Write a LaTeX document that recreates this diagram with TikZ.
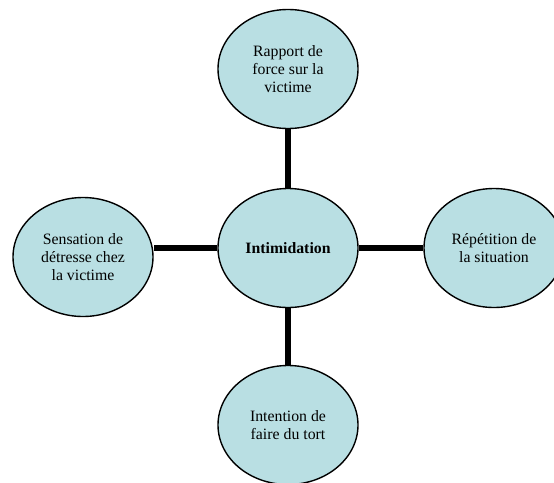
\documentclass[tikz,border=0pt]{standalone}
\usepackage{fontspec}
\setmainfont{Liberation Serif}
\usepackage{tikz}
\usetikzlibrary{shapes.geometric}
\usetikzlibrary{backgrounds}
\definecolor{bulle}{RGB}{185,223,227}
\tikzstyle{idee}=[draw,fill=bulle,ellipse,line width=1.4pt,minimum width=140pt,minimum height=119pt,inner sep=0pt,align=center,font=\fontsize{15.8}{18.2}\selectfont]
\tikzstyle{lien}=[line width=6pt]

\begin{document}
\begin{tikzpicture}[x=1pt,y=-1pt]
\useasboundingbox (0,0) rectangle (554,482);
    \node [idee] (intim) at (288,248) {\textbf{Intimidation}};
    \node [idee] (rapport) at (288,69) {Rapport de\\force sur la\\victime};
    \node [idee] (repet) at (494,248) {Répétition de\\la situation};
    \node [idee] (intent) at (288,425) {Intention de\\faire du tort};
    \node [idee] (detresse) at (83,257) {Sensation de\\détresse chez\\la victime};
% les liens passent sous les bulles
\begin{scope}[on background layer]
\draw[lien] (intim) -- (rapport);
\draw[lien] (intim) -- (intent);
\draw[lien] (intim) -- (repet);
\draw[lien] (intim.west) -- (intim.west -| detresse.east);
\end{scope}
\end{tikzpicture}
\end{document}
